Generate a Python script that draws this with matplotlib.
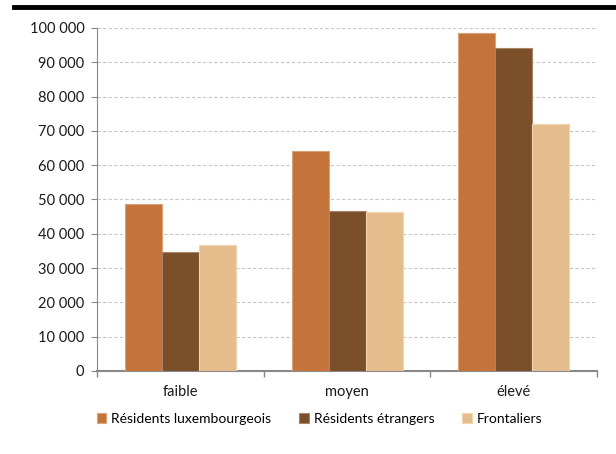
import matplotlib
matplotlib.use("Agg")
import matplotlib.pyplot as plt
import numpy as np
from matplotlib.ticker import FuncFormatter, MultipleLocator, FixedLocator

plt.rcParams['font.family'] = ['Lato', 'DejaVu Sans']

categories = ["faible", "moyen", "élevé"]
series_names = ["Résidents luxembourgeois", "Résidents étrangers", "Frontaliers"]
lux = [48600, 64200, 98500]
etr = [34700, 46600, 94200]
front = [36700, 46300, 72100]
colors = ["#C4743A", "#7B4F2A", "#E5BD8C"]
edge_colors = ["#D9A27A", "#A88567", "#F0D5B3"]

fig = plt.figure(figsize=(6.16, 4.54), dpi=100)
ax = fig.add_axes([97/616, 1 - 371/454, 500/616, 343/454])

x = np.arange(len(categories))
w = 0.222
for i, (vals, c, ec, name) in enumerate(zip([lux, etr, front], colors, edge_colors, series_names)):
    ax.bar(x + (i - 1) * w, vals, width=w, color=c, edgecolor=ec, linewidth=0.8,
           label=name, zorder=3)

ax.set_xlim(-0.5, 2.5)
ax.set_ylim(0, 100000)
ax.yaxis.set_major_locator(MultipleLocator(10000))
ax.yaxis.set_major_formatter(FuncFormatter(lambda v, p: f"{int(v):,}".replace(",", " ")))
ax.set_xticks(x)
ax.set_xticklabels(categories)
ax.xaxis.set_minor_locator(FixedLocator([-0.5, 0.5, 1.5, 2.5]))
ax.tick_params(axis='x', which='major', length=0, pad=10, labelsize=10.5, colors='#1a1a1a')
ax.tick_params(axis='x', which='minor', length=4, color='#888888', width=1)
ax.tick_params(axis='y', length=4, color='#888888', width=0.8, labelsize=10.5, pad=5)
for lbl in ax.get_yticklabels():
    lbl.set_color('#1a1a1a')

ax.grid(axis='y', color='#c8c8c8', linestyle=(0, (3, 2)), linewidth=0.8, zorder=0)
ax.set_axisbelow(True)
for s in ['top', 'right']:
    ax.spines[s].set_visible(False)
ax.spines['left'].set_color('#888888')
ax.spines['left'].set_linewidth(0.8)
ax.spines['bottom'].set_color('#888888')
ax.spines['bottom'].set_linewidth(1.5)

# thick rule across the top of the figure
fig.add_artist(plt.Line2D([14/616, 1], [1 - 7/454, 1 - 7/454], color='black',
                          linewidth=3.5, transform=fig.transFigure))

ax.legend(loc='center left', bbox_to_anchor=(-0.012, -0.14), ncol=3, frameon=False,
          fontsize=10, handlelength=0.7, handleheight=0.7, handletextpad=0.35,
          columnspacing=2.0, borderaxespad=0)

fig.savefig("out.png", dpi=100)
